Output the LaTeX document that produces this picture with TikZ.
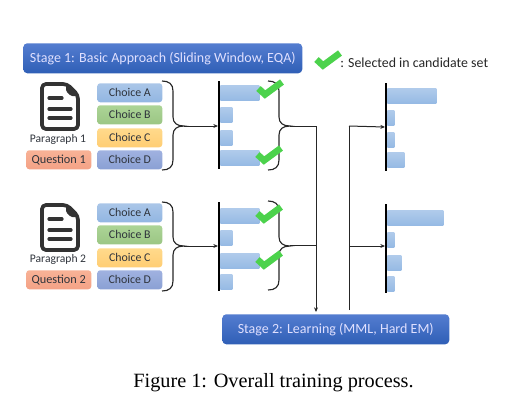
\documentclass[tikz,border=0pt]{standalone}
\usepackage{fontspec}
\setmainfont{Liberation Serif}
\newfontfamily\labelfont{Carlito}
\usetikzlibrary{arrows.meta}
\definecolor{txt}{HTML}{2F343C}
\definecolor{docc}{HTML}{333333}
\definecolor{chk}{HTML}{4CD24C}
\definecolor{aT}{HTML}{AAC6E8}\definecolor{aB}{HTML}{92B6E2}
\definecolor{bT}{HTML}{ACD496}\definecolor{bB}{HTML}{9BC684}
\definecolor{cT}{HTML}{FFDA8C}\definecolor{cB}{HTML}{FFCD73}
\definecolor{dT}{HTML}{A0B2E0}\definecolor{dB}{HTML}{8AA0D4}
\definecolor{qT}{HTML}{F8B296}\definecolor{qB}{HTML}{F4A286}
\definecolor{sT}{HTML}{547DD0}\definecolor{sB}{HTML}{2F5FB6}
\definecolor{rT}{HTML}{B0CBEB}\definecolor{rB}{HTML}{96BAE4}
\newlength{\pxl}\setlength{\pxl}{0.75pt}
\tikzset{
  x=0.75pt,y=-0.75pt,
  boxbase/.style={anchor=north west,rounded corners=2.2pt,inner sep=0pt,minimum width=65\pxl,minimum height=19\pxl,font=\labelfont\fontsize{8.9}{10}\selectfont,text=txt},
  choiceA/.style={boxbase,top color=aT,bottom color=aB},
  choiceB/.style={boxbase,top color=bT,bottom color=bB},
  choiceC/.style={boxbase,top color=cT,bottom color=cB},
  choiceD/.style={boxbase,top color=dT,bottom color=dB},
  questionbox/.style={boxbase,font=\labelfont\fontsize{9.2}{10}\selectfont,top color=qT,bottom color=qB},
  stagebox/.style={anchor=north west,rounded corners=3pt,inner sep=0pt,minimum height=30\pxl,font=\labelfont\fontsize{10.5}{12}\selectfont,text=white!88!blue,top color=sT,bottom color=sB},
  barbox/.style={anchor=north west,inner sep=0pt,minimum height=15\pxl,top color=rT,bottom color=rB},
  axisline/.style={line width=1.5pt,black},
  link/.style={line width=.75pt,black!85},
  arrowlink/.style={link,-{Stealth[length=3.5pt,width=3pt]}},
  bracecurve/.style={line width=.85pt,black!85},
  checkline/.style={line width=4.9pt,chk},
  paralabel/.style={inner sep=0pt,font=\labelfont\fontsize{8.7}{10}\selectfont,text=txt},
}
\newcommand{\barrect}[4]{\node[barbox,minimum width=#4\pxl] (#1) at (#2,#3) {};}
\newcommand{\tickmark}[2]{\draw[checkline] (#1+3.5,#2+10.5) -- (#1+10,#2+16.5) -- (#1+27,#2+4);}
\newcommand{\docicon}[2]{%
  \draw[docc,line width=2.8pt,line join=round,rounded corners=3pt] (#1+2,#2+2) -- (#1+27,#2+2) -- (#1+38,#2+13) -- (#1+38,#2+47) -- (#1+2,#2+47) -- cycle;
  \fill[docc,rounded corners=1pt] (#1+26,#2+2) -- (#1+38,#2+14) -- (#1+31,#2+14) -- (#1+26,#2+9) -- cycle;
  \draw[docc,line width=2.4pt,line cap=round] (#1+9,#2+16) -- (#1+22,#2+16) (#1+9,#2+27) -- (#1+31,#2+27) (#1+9,#2+36) -- (#1+31,#2+36);
}
\newcommand{\bracedraw}[4]{%
  \draw[bracecurve] (#1,#2) .. controls (#1+7,#2) and (#1+11,#2+3) .. (#1+11,#2+10) -- (#1+11,#3-9) .. controls (#1+11,#3-3) and (#1+15,#3) .. (#1+22,#3)
     .. controls (#1+15,#3) and (#1+11,#3+3) .. (#1+11,#3+9) -- (#1+11,#4-10) .. controls (#1+11,#4-3) and (#1+7,#4) .. (#1,#4);
}
\begin{document}
\begin{tikzpicture}
\useasboundingbox (0,0) rectangle (517,412);
\node[stagebox,minimum width=279\pxl] (stage1) at (23,43) {Stage 1: Basic Approach (Sliding Window, EQA)};
\node[stagebox,minimum width=227\pxl] (stage2) at (222,314) {Stage 2: Learning (MML, Hard EM)};
\tickmark{313}{49}
\node[anchor=west,inner sep=0pt,font=\labelfont\fontsize{10.4}{12}\selectfont,text=black!85] (legend) at (340,63) {: Selected in candidate set};
% Group 1
\docicon{40}{82}
\node[paralabel] (para1) at (58,139) {Paragraph 1};
\node[questionbox] (q1) at (26,150) {Question 1};
\node[choiceA] (a1) at (97,83) {Choice A};
\node[choiceB] (b1) at (97,105) {Choice B};
\node[choiceC] (c1) at (97,128) {Choice C};
\node[choiceD] (d1) at (97,150) {Choice D};
\bracedraw{162}{81}{126}{170}
\coordinate (brace1) at (184,126);
\coordinate (axis1top) at (219,81);
\coordinate (axis1bot) at (219,169);
\coordinate (axis1in) at (218,126);
\barrect{p1a}{220}{85}{39}
\barrect{p1b}{220}{107}{12}
\barrect{p1c}{220}{130}{12}
\barrect{p1d}{220}{150}{39}
\draw[axisline] (axis1top) -- (axis1bot);
\draw[arrowlink] (brace1) -- (axis1in);
\bracedraw{268}{81}{126}{170}
\tickmark{255}{78}
\tickmark{254}{144}
% Group 2
\docicon{40}{203}
\node[paralabel] (para2) at (58,259) {Paragraph 2};
\node[questionbox] (q2) at (26,270) {Question 2};
\node[choiceA] (a2) at (97,203) {Choice A};
\node[choiceB] (b2) at (97,225) {Choice B};
\node[choiceC] (c2) at (97,248) {Choice C};
\node[choiceD] (d2) at (97,270) {Choice D};
\bracedraw{162}{202}{246}{291}
\coordinate (brace2) at (184,246);
\coordinate (axis2top) at (219,202);
\coordinate (axis2bot) at (219,291);
\coordinate (axis2in) at (218,246);
\barrect{p2a}{220}{208}{39}
\barrect{p2b}{220}{230}{12}
\barrect{p2c}{220}{253}{39}
\barrect{p2d}{220}{274}{12}
\draw[axisline] (axis2top) -- (axis2bot);
\draw[arrowlink] (brace2) -- (axis2in);
\bracedraw{268}{201}{246}{290}
\tickmark{254}{203}
\tickmark{254}{249}
% Connections
\coordinate (rb1) at (290,126);
\coordinate (rb2) at (290,245);
\coordinate (j1) at (316,126);
\coordinate (j2) at (316,245);
\coordinate (down) at (316,312);
\coordinate (up) at (349,310);
\coordinate (u1) at (349,126);
\coordinate (u2) at (349,246);
\draw[link] (rb1) -- (j1) -- (j2);
\draw[link] (rb2) -- (j2);
\draw[arrowlink] (j2) -- (down);
\draw[link] (up) -- (u1);
% Result group 1
\barrect{r1a}{387}{88}{49}
\barrect{r1b}{387}{110}{7}
\barrect{r1c}{387}{132}{7}
\barrect{r1d}{387}{152}{17}
\coordinate (r1top) at (386,83);
\coordinate (r1bot) at (386,171);
\coordinate (r1in) at (385,127);
\draw[axisline] (r1top) -- (r1bot);
\draw[arrowlink] (u1) -- (r1in);
% Result group 2
\barrect{r2a}{387}{210}{56}
\barrect{r2b}{387}{232}{7}
\barrect{r2c}{387}{255}{14}
\barrect{r2d}{387}{276}{7}
\coordinate (r2top) at (386,204);
\coordinate (r2bot) at (386,293);
\coordinate (r2in) at (385,246);
\draw[axisline] (r2top) -- (r2bot);
\draw[arrowlink] (u2) -- (r2in);
\node[inner sep=0pt,font=\fontsize{15.2}{17}\selectfont,text=black] (caption) at (273.5,383) {Figure 1: Overall training process.};
\end{tikzpicture}
\end{document}
